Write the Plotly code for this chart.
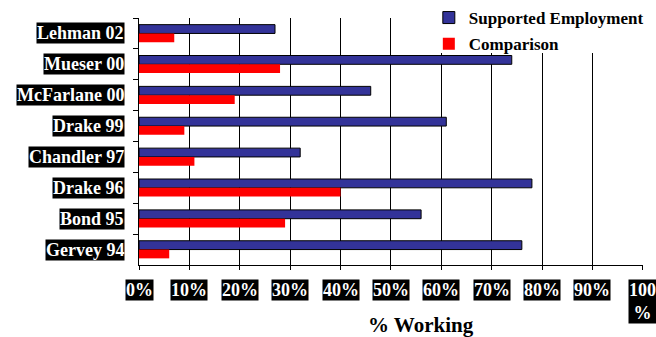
import plotly.graph_objects as go

studies = ["Lehman 02", "Mueser 00", "McFarlane 00", "Drake 99", "Chandler 97", "Drake 96", "Bond 95", "Gervey 94"]
supported = [27, 74, 46, 61, 32, 78, 56, 76]
comparison = [7, 28, 19, 9, 11, 40, 29, 6]
x_ticks = [0, 10, 20, 30, 40, 50, 60, 70, 80, 90, 100]
x_tick_labels = ["0%", "10%", "20%", "30%", "40%", "50%", "60%", "70%", "80%", "90%", "100<br>%"]

SERIF = "Liberation Serif, Times New Roman, serif"

fig = go.Figure()
fig.add_trace(go.Bar(y=studies, x=supported, orientation="h", name="Supported Employment",
                     marker=dict(color="#333399", line=dict(color="black", width=1)), legendgroup="a"))
fig.add_trace(go.Bar(y=studies, x=comparison, orientation="h", name="Comparison",
                     marker=dict(color="#FF0000", line=dict(width=0)), legendgroup="b"))

annotations = []
for s in studies:
    annotations.append(dict(x=-0.028, xref="paper", y=s, yref="y", xanchor="right", yanchor="middle",
                            text="<b>%s</b>" % s, showarrow=False, bgcolor="black", borderpad=0,
                            font=dict(family=SERIF, size=18, color="white")))
for v, t in zip(x_ticks, x_tick_labels):
    annotations.append(dict(x=v, xref="x", y=-0.058, yref="paper", xanchor="center", yanchor="top",
                            text="<b>%s</b>" % t, showarrow=False, bgcolor="black", borderpad=0,
                            font=dict(family=SERIF, size=18, color="white")))
annotations.append(dict(x=0.56, xref="paper", y=-0.243, yref="paper", xanchor="center", yanchor="middle",
                        text="<b>% Working</b>", showarrow=False,
                        font=dict(family=SERIF, size=21, color="black")))

# white panel behind the legend, hiding the gridlines in that corner
legend_panel = dict(type="rect", xref="paper", yref="paper", x0=0.59, x1=1.01, y0=0.858, y1=1.0,
                    fillcolor="white", line=dict(width=0), layer="above")

fig.update_layout(
    width=656, height=337,
    margin=dict(l=139, r=13, t=18, b=72, autoexpand=False),
    paper_bgcolor="white", plot_bgcolor="white",
    barmode="group", bargap=0.43, bargroupgap=0,
    showlegend=True,
    legend=dict(x=0.6537, xref="container", xanchor="left", y=1.0, yref="container", yanchor="top",
                bgcolor="rgba(0,0,0,0)",
                font=dict(family=SERIF, size=17, color="black", weight="bold"),
                traceorder="grouped", tracegroupgap=1, borderwidth=0),
    annotations=annotations,
    shapes=[legend_panel],
    font=dict(family=SERIF),
)
fig.update_xaxes(range=[0, 100.05], tickvals=x_ticks, showticklabels=False, showgrid=True,
                 gridcolor="black", gridwidth=1, showline=True, linecolor="black", linewidth=1,
                 ticks="outside", ticklen=4, tickcolor="black", zeroline=False, fixedrange=True)
fig.update_yaxes(categoryorder="array", categoryarray=studies, autorange="reversed",
                 showticklabels=False, showgrid=False, showline=True, linecolor="black", linewidth=1,
                 ticks="outside", ticklen=5, tickcolor="black", tickson="boundaries", zeroline=False)

fig.write_html("out.html")
